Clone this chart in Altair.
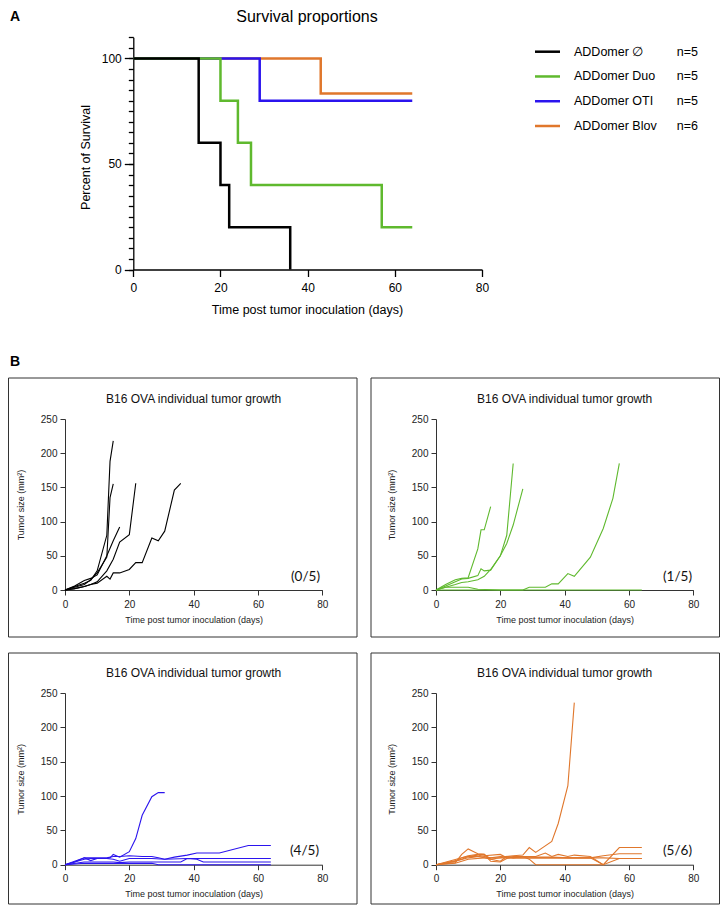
import altair as alt
import pandas as pd

W, H = 712, 897
FONT = "Liberation Sans"

# ---------------- data ----------------
groups = ["ADDomer \u2205", "ADDomer Duo", "ADDomer OTI", "ADDomer Blov"]
group_n = ["n=5", "n=5", "n=5", "n=6"]
group_colors = ["#000000", "#5fb92e", "#2b14ee", "#e0772c"]

surv_days = [
    [0, 15, 20, 22, 36],
    [0, 20, 24, 27, 57, 64],
    [0, 29, 64],
    [0, 43, 64],
]
surv_pct = [
    [100, 60, 40, 20, 0],
    [100, 80, 60, 40, 20, 20],
    [100, 80, 80],
    [100, 83.33, 83.33],
]

ctrl_days = [
    [0, 3, 6, 8, 10, 13, 14, 15],
    [0, 3, 6, 8, 10, 13, 14, 15],
    [0, 3, 6, 8, 10, 13, 15, 17],
    [0, 3, 6, 8, 10, 13, 15, 17, 20, 22],
    [0, 3, 6, 8, 10, 13, 14, 15, 17, 20, 22, 24, 27, 29, 31, 34, 36],
]
ctrl_size = [
    [0, 5, 10, 14, 28, 80, 188, 218],
    [0, 4, 8, 15, 25, 48, 135, 155],
    [0, 6, 14, 17, 22, 50, 72, 92],
    [0, 2, 5, 8, 12, 28, 45, 70, 81, 156],
    [0, 2, 5, 8, 10, 20, 16, 25, 25, 30, 40, 40, 76, 72, 86, 146, 156],
]

duo_days = [
    [0, 3, 6, 8, 10, 13, 14, 15, 17],
    [0, 3, 6, 8, 10, 13, 14, 15, 17, 20, 22, 24],
    [0, 3, 6, 8, 10, 13, 15, 17, 20, 22, 24, 27],
    [0, 10, 20, 27, 29, 34, 36, 38, 41, 43, 48, 52, 55, 57],
    [0, 3, 6, 10, 13, 20, 30, 40, 50, 64],
]
duo_size = [
    [0, 8, 15, 17, 18, 60, 88, 88, 122],
    [0, 6, 12, 16, 17, 21, 31, 28, 29, 50, 80, 185],
    [0, 4, 8, 11, 12, 15, 20, 30, 50, 68, 95, 148],
    [0, 0, 0, 0, 4, 4, 9, 9, 24, 20, 48, 90, 134, 185],
    [0, 4, 4, 4, 1, 0, 0, 0, 0, 0],
]

oti_days = [
    [0, 3, 6, 8, 10, 13, 14, 15, 17, 20, 22, 24, 27, 29, 31],
    [0, 3, 6, 8, 10, 13, 15, 17, 20, 24, 27, 29, 31, 34, 38, 41, 48, 57, 64],
    [0, 3, 6, 8, 10, 13, 15, 17, 20, 27, 31, 38, 41, 64],
    [0, 6, 15, 17, 20, 36, 38, 41, 43, 64],
    [0, 6, 15, 20, 27, 29, 64],
]
oti_size = [
    [0, 4, 8, 9, 9, 9, 10, 15, 11, 19, 38, 72, 99, 105, 105],
    [0, 4, 10, 10, 10, 10, 12, 12, 13, 12, 12, 10, 8, 11, 14, 17, 17, 28, 28],
    [0, 5, 10, 6, 9, 9, 8, 5, 9, 9, 8, 9, 9, 9],
    [0, 4, 4, 3, 4, 4, 9, 8, 4, 4],
    [0, 2, 2, 2, 2, 0, 0],
]

blov_days = [
    [0, 3, 6, 8, 10, 13, 15, 17, 20, 22, 24, 27, 29, 31, 36, 38, 41, 43],
    [0, 6, 8, 10, 13, 15, 17, 20, 22, 24, 27, 29, 31, 36, 43, 48, 52],
    [0, 8, 10, 13, 15, 17, 20, 24, 27, 31, 34, 36, 38, 41, 43, 48, 52, 57, 64],
    [0, 8, 10, 13, 15, 17, 20, 22, 24, 29, 31, 36, 41, 48, 52, 57, 64],
    [0, 6, 10, 15, 20, 22, 27, 31, 36, 41, 48, 52, 57, 64],
    [0, 6, 10, 15, 20, 31, 41, 48, 52, 57, 64],
]
blov_size = [
    [0, 2, 5, 10, 12, 12, 10, 8, 10, 12, 13, 14, 25, 18, 34, 60, 115, 236],
    [0, 3, 15, 23, 16, 15, 8, 5, 12, 10, 12, 8, 0, 0, 0, 0, 0],
    [0, 8, 12, 14, 12, 10, 12, 11, 12, 12, 17, 12, 15, 12, 14, 12, 0, 25, 25],
    [0, 10, 13, 15, 15, 5, 4, 9, 12, 12, 11, 11, 10, 10, 13, 16, 16],
    [0, 5, 10, 13, 15, 10, 10, 10, 10, 10, 10, 0, 9, 9],
    [0, 2, 8, 10, 10, 10, 10, 10, 10, 9, 9],
]

panel_fracs = ["(0/5)", "(1/5)", "(4/5)", "(5/6)"]
panel_title = "B16 OVA individual tumor growth"
x_ticks_a = [0, 20, 40, 60, 80]
y_ticks_a = [0, 50, 100]
y_minor_a = list(range(0, 115, 5))
x_ticks_b = [0, 20, 40, 60, 80]
y_ticks_b = [0, 50, 100, 150, 200, 250]

dummy = pd.DataFrame({"k": [0]})


def text_mark(txt, x, y, size, align="center", baseline="middle", weight="normal", font=FONT, color="#000"):
    return alt.Chart(pd.DataFrame({"t": [txt]})).mark_text(
        align=align, baseline=baseline, fontSize=size, fontWeight=weight, font=font, color=color
    ).encode(x=alt.value(x), y=alt.value(y), text="t:N")


def frame(x, x2, y, y2):
    return alt.Chart(dummy).mark_rect(fillOpacity=0, stroke="#333333", strokeWidth=1).encode(
        x=alt.value(x), x2=alt.value(x2), y=alt.value(y), y2=alt.value(y2)
    )


layers = []

# ---------------- Panel A : survival ----------------
AX0, AX1 = 125.3, 474.0
AY0, AY1 = 261.5, 29.3
xs_a = alt.Scale(domain=[0, 80], range=[AX0, AX1], nice=False, zero=False)
ys_a = alt.Scale(domain=[0, 110], range=[AY0, AY1], nice=False, zero=False)
x_axis_a = alt.Axis(orient="bottom", offset=AY0 - H, values=x_ticks_a, grid=False, tickSize=7,
                    labelPadding=6, labelFontSize=12, labelFont=FONT, labelColor="#000",
                    labelFlush=False, labelOverlap=False, domainColor="#000", tickColor="#000",
                    domainWidth=1.3, tickWidth=1.3,
                    title="Time post tumor inoculation (days)", titleFont=FONT, titleFontSize=12.5,
                    titleFontWeight="normal", titleColor="#000", titleX=299, titleY=40,
                    titleAlign="center", titleBaseline="middle")
y_axis_a = alt.Axis(orient="left", offset=-AX0, values=y_ticks_a, grid=False, tickSize=9,
                    labelPadding=3, labelFontSize=12, labelFont=FONT, labelColor="#000",
                    labelFlush=False, labelOverlap=False, domainColor="#000", tickColor="#000",
                    domainWidth=1.3, tickWidth=1.3,
                    title="Percent of Survival", titleFont=FONT, titleFontSize=12.5,
                    titleFontWeight="normal", titleColor="#000", titleX=77 - AX0, titleY=149,
                    titleAngle=270, titleAlign="center", titleBaseline="middle")

surv_layers = []
for gi in [3, 2, 1, 0]:
    df = pd.DataFrame({"day": surv_days[gi], "pct": surv_pct[gi]})
    surv_layers.append(
        alt.Chart(df).mark_line(interpolate="step-after", strokeWidth=2.5, color=group_colors[gi]).encode(
            x=alt.X("day:Q", scale=xs_a, axis=x_axis_a),
            y=alt.Y("pct:Q", scale=ys_a, axis=y_axis_a),
        )
    )
layers.append(alt.layer(*surv_layers))

# minor ticks on survival y axis
minor_df = pd.DataFrame({"v": y_minor_a})
layers.append(
    alt.Chart(minor_df).mark_point(opacity=0).encode(
        x=alt.value(0),
        y=alt.Y("v:Q", scale=alt.Scale(domain=[0, 110], range=[AY0, AY1], nice=False, zero=False),
                axis=alt.Axis(orient="left", offset=-AX0, values=y_minor_a, labels=False, tickSize=5,
                              domain=False, grid=False, tickColor="#000", tickWidth=1.3, title=None)),
    )
)

layers.append(text_mark("Survival proportions", 299, 1, 16, baseline="top"))
layers.append(text_mark("A", 2, 2, 14, align="left", baseline="top", weight="bold"))

# legend
leg_df = pd.DataFrame({"group": groups, "n": group_n, "row": list(range(len(groups)))})
leg_y = alt.Y("row:Q", scale=alt.Scale(domain=[0, 3], range=[43.7, 118], nice=False, zero=False), axis=None)
leg_c = alt.Color("group:N", scale=alt.Scale(domain=groups, range=group_colors), legend=None)
layers.append(
    alt.layer(
        alt.Chart(leg_df).mark_rule(strokeWidth=2.5).encode(
            x=alt.value(527), x2=alt.value(552), y=leg_y, color=leg_c),
        alt.Chart(leg_df).mark_text(align="left", baseline="middle", fontSize=12.5, font=FONT, color="#000").encode(
            x=alt.value(566), y=leg_y, text="group:N"),
        alt.Chart(leg_df).mark_text(align="left", baseline="middle", fontSize=12.5, font=FONT, color="#000").encode(
            x=alt.value(668.7), y=leg_y, text="n:N"),
    )
)

# ---------------- Panel B : tumor growth ----------------
layers.append(text_mark("B", 2, 347, 14, align="left", baseline="top", weight="bold"))


def growth_panel(days_list, size_list, color, x0, x1, y0, y1, frac, frac_x, frac_y):
    rows = []
    for i, (d, s) in enumerate(zip(days_list, size_list)):
        for dd, ss in zip(d, s):
            rows.append({"mouse": i, "day": dd, "size": ss})
    df = pd.DataFrame(rows)
    cx = (x0 + x1) / 2
    cy = (y0 + y1) / 2
    xs = alt.Scale(domain=[0, 80], range=[x0, x1], nice=False, zero=False)
    ys = alt.Scale(domain=[0, 250], range=[y0, y1], nice=False, zero=False)
    xa = alt.Axis(orient="bottom", offset=y0 - H, values=x_ticks_b, grid=False, tickSize=5,
                  labelPadding=4, labelFontSize=10, labelFont=FONT, labelColor="#222",
                  labelFlush=False, labelOverlap=False, domainColor="#333", tickColor="#333",
                  domainWidth=1, tickWidth=1,
                  title="Time post tumor inoculation (days)", titleFont=FONT, titleFontSize=9,
                  titleFontWeight="normal", titleColor="#222", titleX=cx, titleY=29,
                  titleAlign="center", titleBaseline="middle")
    ya = alt.Axis(orient="left", offset=-x0, values=y_ticks_b, grid=False, tickSize=5,
                  labelPadding=3, labelFontSize=10, labelFont=FONT, labelColor="#222",
                  labelFlush=False, labelOverlap=False, domainColor="#333", tickColor="#333",
                  domainWidth=1, tickWidth=1,
                  title="Tumor size (mm\u00b2)", titleFont=FONT, titleFontSize=9,
                  titleFontWeight="normal", titleColor="#222", titleX=-45, titleY=cy,
                  titleAngle=270, titleAlign="center", titleBaseline="middle")
    lines = alt.Chart(df).mark_line(strokeWidth=1.1, color=color).encode(
        x=alt.X("day:Q", scale=xs, axis=xa),
        y=alt.Y("size:Q", scale=ys, axis=ya),
        detail="mouse:N",
    )
    out = [lines,
           text_mark(panel_title, cx, y1 - 20, 12, color="#111"),
           text_mark(frac, frac_x, frac_y, 13.5, align="right", font="Lato", color="#111")]
    return out


XL0, XL1 = 57.0, 314.3
XR0, XR1 = 428.0, 685.3
YT0, YT1 = 582.0, 411.0
YB0, YB1 = 856.7, 685.0

layers += [frame(0.5, 349, 370, 629), frame(363, 711.5, 370, 629),
           frame(0.5, 349, 645, 896), frame(363, 711.5, 645, 896)]

layers += growth_panel(ctrl_days, ctrl_size, group_colors[0], XL0, XL1, YT0, YT1, panel_fracs[0], 312, 569)
layers += growth_panel(duo_days, duo_size, group_colors[1], XR0, XR1, YT0, YT1, panel_fracs[1], 684, 569)
layers += growth_panel(oti_days, oti_size, group_colors[2], XL0, XL1, YB0, YB1, panel_fracs[2], 311, 843)
layers += growth_panel(blov_days, blov_size, group_colors[3], XR0, XR1, YB0, YB1, panel_fracs[3], 684, 843)

chart = alt.layer(*layers).resolve_scale(
    x="independent", y="independent", color="independent"
).resolve_axis(
    x="independent", y="independent"
).properties(
    width=W, height=H, padding=0, autosize=alt.AutoSizeParams(type="none"), background="white"
).configure_view(stroke=None)

chart.save("out.html", embed_options={"renderer": "svg", "actions": False})
